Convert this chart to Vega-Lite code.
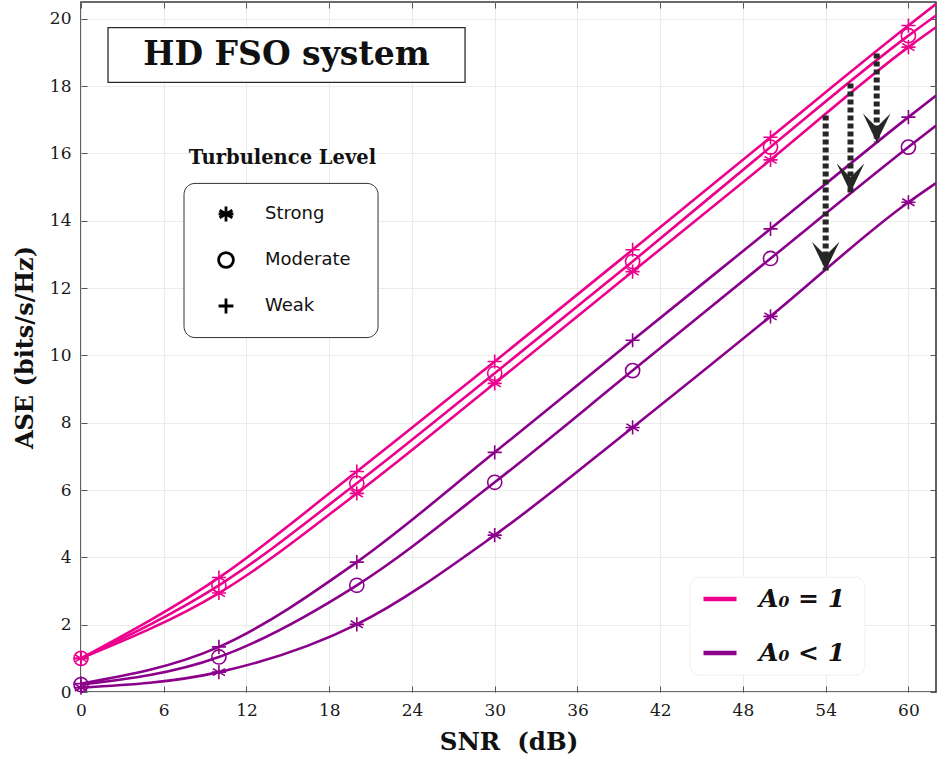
{
  "$schema": "https://vega.github.io/schema/vega-lite/v6.json",
  "width": 855,
  "height": 690,
  "autosize": "none",
  "padding": {"left": 81, "top": 2, "right": 2, "bottom": 80},
  "background": "white",
  "config": {
    "view": {"stroke": "#383838", "strokeWidth": 1.6},
    "font": "DejaVu Serif"
  },
  "datasets": {
    "curves": [
      {"snr": 0, "ase": 1.0, "a0": "A₀ = 1", "turb": "Weak", "series": "1W"},
      {"snr": 10, "ase": 3.40, "a0": "A₀ = 1", "turb": "Weak", "series": "1W"},
      {"snr": 20, "ase": 6.55, "a0": "A₀ = 1", "turb": "Weak", "series": "1W"},
      {"snr": 30, "ase": 9.82, "a0": "A₀ = 1", "turb": "Weak", "series": "1W"},
      {"snr": 40, "ase": 13.14, "a0": "A₀ = 1", "turb": "Weak", "series": "1W"},
      {"snr": 50, "ase": 16.48, "a0": "A₀ = 1", "turb": "Weak", "series": "1W"},
      {"snr": 60, "ase": 19.80, "a0": "A₀ = 1", "turb": "Weak", "series": "1W"},
      {"snr": 62, "ase": 20.44, "a0": "A₀ = 1", "turb": "Weak", "series": "1W"},
      {"snr": 0, "ase": 1.0, "a0": "A₀ = 1", "turb": "Moderate", "series": "1M"},
      {"snr": 10, "ase": 3.17, "a0": "A₀ = 1", "turb": "Moderate", "series": "1M"},
      {"snr": 20, "ase": 6.20, "a0": "A₀ = 1", "turb": "Moderate", "series": "1M"},
      {"snr": 30, "ase": 9.47, "a0": "A₀ = 1", "turb": "Moderate", "series": "1M"},
      {"snr": 40, "ase": 12.79, "a0": "A₀ = 1", "turb": "Moderate", "series": "1M"},
      {"snr": 50, "ase": 16.19, "a0": "A₀ = 1", "turb": "Moderate", "series": "1M"},
      {"snr": 60, "ase": 19.50, "a0": "A₀ = 1", "turb": "Moderate", "series": "1M"},
      {"snr": 62, "ase": 20.10, "a0": "A₀ = 1", "turb": "Moderate", "series": "1M"},
      {"snr": 0, "ase": 1.0, "a0": "A₀ = 1", "turb": "Strong", "series": "1S"},
      {"snr": 10, "ase": 2.94, "a0": "A₀ = 1", "turb": "Strong", "series": "1S"},
      {"snr": 20, "ase": 5.90, "a0": "A₀ = 1", "turb": "Strong", "series": "1S"},
      {"snr": 30, "ase": 9.17, "a0": "A₀ = 1", "turb": "Strong", "series": "1S"},
      {"snr": 40, "ase": 12.49, "a0": "A₀ = 1", "turb": "Strong", "series": "1S"},
      {"snr": 50, "ase": 15.81, "a0": "A₀ = 1", "turb": "Strong", "series": "1S"},
      {"snr": 60, "ase": 19.16, "a0": "A₀ = 1", "turb": "Strong", "series": "1S"},
      {"snr": 62, "ase": 19.75, "a0": "A₀ = 1", "turb": "Strong", "series": "1S"},
      {"snr": 0, "ase": 0.25, "a0": "A₀ < 1", "turb": "Weak", "series": "0W"},
      {"snr": 10, "ase": 1.34, "a0": "A₀ < 1", "turb": "Weak", "series": "0W"},
      {"snr": 20, "ase": 3.86, "a0": "A₀ < 1", "turb": "Weak", "series": "0W"},
      {"snr": 30, "ase": 7.12, "a0": "A₀ < 1", "turb": "Weak", "series": "0W"},
      {"snr": 40, "ase": 10.45, "a0": "A₀ < 1", "turb": "Weak", "series": "0W"},
      {"snr": 50, "ase": 13.76, "a0": "A₀ < 1", "turb": "Weak", "series": "0W"},
      {"snr": 60, "ase": 17.08, "a0": "A₀ < 1", "turb": "Weak", "series": "0W"},
      {"snr": 62, "ase": 17.72, "a0": "A₀ < 1", "turb": "Weak", "series": "0W"},
      {"snr": 0, "ase": 0.22, "a0": "A₀ < 1", "turb": "Moderate", "series": "0M"},
      {"snr": 10, "ase": 1.04, "a0": "A₀ < 1", "turb": "Moderate", "series": "0M"},
      {"snr": 20, "ase": 3.17, "a0": "A₀ < 1", "turb": "Moderate", "series": "0M"},
      {"snr": 30, "ase": 6.23, "a0": "A₀ < 1", "turb": "Moderate", "series": "0M"},
      {"snr": 40, "ase": 9.55, "a0": "A₀ < 1", "turb": "Moderate", "series": "0M"},
      {"snr": 50, "ase": 12.88, "a0": "A₀ < 1", "turb": "Moderate", "series": "0M"},
      {"snr": 60, "ase": 16.19, "a0": "A₀ < 1", "turb": "Moderate", "series": "0M"},
      {"snr": 62, "ase": 16.83, "a0": "A₀ < 1", "turb": "Moderate", "series": "0M"},
      {"snr": 0, "ase": 0.13, "a0": "A₀ < 1", "turb": "Strong", "series": "0S"},
      {"snr": 10, "ase": 0.59, "a0": "A₀ < 1", "turb": "Strong", "series": "0S"},
      {"snr": 20, "ase": 2.01, "a0": "A₀ < 1", "turb": "Strong", "series": "0S"},
      {"snr": 30, "ase": 4.66, "a0": "A₀ < 1", "turb": "Strong", "series": "0S"},
      {"snr": 40, "ase": 7.86, "a0": "A₀ < 1", "turb": "Strong", "series": "0S"},
      {"snr": 50, "ase": 11.16, "a0": "A₀ < 1", "turb": "Strong", "series": "0S"},
      {"snr": 60, "ase": 14.55, "a0": "A₀ < 1", "turb": "Strong", "series": "0S"},
      {"snr": 62, "ase": 15.12, "a0": "A₀ < 1", "turb": "Strong", "series": "0S"}
    ],
    "arrows": [
      {"snr": 57.7, "from": 18.97, "to": 16.33},
      {"snr": 55.8, "from": 18.08, "to": 14.84},
      {"snr": 54.0, "from": 17.13, "to": 12.52}
    ],
    "boxes": [
      {"kind": "title", "x1": 1.96, "x2": 27.85, "y1": 18.11, "y2": 19.74, "label": "HD FSO system", "tx": 14.9, "ty": 18.92},
      {"kind": "turb", "x1": 7.47, "x2": 21.54, "y1": 10.53, "y2": 15.11, "label": "Turbulence Level", "tx": 14.61, "ty": 15.88},
      {"kind": "a0", "x1": 44.16, "x2": 56.85, "y1": 0.5, "y2": 3.41, "label": "", "tx": 50, "ty": 2}
    ]
  },
  "layer": [
    {
      "data": {"name": "boxes"},
      "transform": [{"filter": "datum.kind === 'title'"}],
      "mark": {"type": "rect", "fill": "white", "stroke": "#2a2a2a", "strokeWidth": 1.3},
      "encoding": {
        "x": {"field": "x1", "type": "quantitative", "scale": {"domain": [0, 62], "nice": false, "zero": false},
          "axis": {"orient": "top", "values": [0, 6, 12, 18, 24, 30, 36, 42, 48, 54, 60], "labels": false, "title": null, "grid": false, "domain": false, "tickSize": -6, "tickColor": "#555", "tickWidth": 1}},
        "x2": {"field": "x2"},
        "y": {"field": "y1", "type": "quantitative", "scale": {"domain": [0, 20.5], "nice": false, "zero": false},
          "axis": {"orient": "right", "values": [0, 2, 4, 6, 8, 10, 12, 14, 16, 18, 20], "labels": false, "title": null, "grid": false, "domain": false, "tickSize": -6, "tickColor": "#555", "tickWidth": 1}},
        "y2": {"field": "y2"}
      }
    },
    {
      "data": {"name": "boxes"},
      "transform": [{"filter": "datum.kind === 'turb'"}],
      "mark": {"type": "rect", "fill": "white", "stroke": "#333333", "strokeWidth": 1, "cornerRadius": 11},
      "encoding": {
        "x": {"field": "x1", "type": "quantitative", "scale": {"domain": [0, 62], "nice": false, "zero": false}, "axis": null},
        "x2": {"field": "x2"},
        "y": {"field": "y1", "type": "quantitative", "scale": {"domain": [0, 20.5], "nice": false, "zero": false}, "axis": null},
        "y2": {"field": "y2"}
      }
    },
    {
      "data": {"name": "boxes"},
      "transform": [{"filter": "datum.kind === 'a0'"}],
      "mark": {"type": "rect", "fill": "white", "stroke": "#f0f0f0", "strokeWidth": 1, "cornerRadius": 10},
      "encoding": {
        "x": {"field": "x1", "type": "quantitative", "scale": {"domain": [0, 62], "nice": false, "zero": false}, "axis": null},
        "x2": {"field": "x2"},
        "y": {"field": "y1", "type": "quantitative", "scale": {"domain": [0, 20.5], "nice": false, "zero": false}, "axis": null},
        "y2": {"field": "y2"}
      }
    },
    {
      "data": {"name": "boxes"},
      "transform": [{"filter": "datum.kind === 'title'"}],
      "mark": {"type": "text", "font": "DejaVu Serif", "fontWeight": "bold", "fontSize": 33, "color": "#111", "baseline": "middle", "align": "center"},
      "encoding": {
        "x": {"field": "tx", "type": "quantitative", "scale": {"domain": [0, 62], "nice": false, "zero": false}, "axis": null},
        "y": {"field": "ty", "type": "quantitative", "scale": {"domain": [0, 20.5], "nice": false, "zero": false}, "axis": null},
        "text": {"field": "label"}
      }
    },
    {
      "data": {"name": "boxes"},
      "transform": [{"filter": "datum.kind === 'turb'"}],
      "mark": {"type": "text", "font": "DejaVu Serif", "fontWeight": "bold", "fontSize": 19.5, "color": "#111", "baseline": "middle", "align": "center"},
      "encoding": {
        "x": {"field": "tx", "type": "quantitative", "scale": {"domain": [0, 62], "nice": false, "zero": false}, "axis": null},
        "y": {"field": "ty", "type": "quantitative", "scale": {"domain": [0, 20.5], "nice": false, "zero": false}, "axis": null},
        "text": {"field": "label"}
      }
    },
    {
      "data": {"name": "curves"},
      "mark": {"type": "line", "interpolate": "monotone", "strokeWidth": 2.6, "clip": true},
      "encoding": {
        "x": {"field": "snr", "type": "quantitative", "scale": {"domain": [0, 62], "nice": false, "zero": false},
          "axis": {"orient": "bottom", "values": [0, 6, 12, 18, 24, 30, 36, 42, 48, 54, 60], "title": "SNR\u00a0\u00a0(dB)", "grid": true, "gridColor": "#ebebeb", "gridWidth": 1, "domain": false, "tickSize": -6, "tickColor": "#555", "labelFlush": false, "labelPadding": 16, "labelFont": "DejaVu Serif", "labelFontSize": 17, "labelColor": "#1a1a1a", "titleFont": "DejaVu Serif", "titleFontSize": 24.5, "titleFontWeight": "bold", "titleColor": "#111", "titlePadding": 12}},
        "y": {"field": "ase", "type": "quantitative", "scale": {"domain": [0, 20.5], "nice": false, "zero": false},
          "axis": {"orient": "left", "values": [0, 2, 4, 6, 8, 10, 12, 14, 16, 18, 20], "title": "ASE (bits/s/Hz)", "grid": true, "gridColor": "#ebebeb", "gridWidth": 1, "domain": false, "tickSize": -6, "tickColor": "#555", "labelFlush": false, "labelPadding": 16, "labelFont": "DejaVu Serif", "labelFontSize": 17, "labelColor": "#1a1a1a", "titleFont": "DejaVu Serif", "titleFontSize": 24, "titleFontWeight": "bold", "titleColor": "#111", "titlePadding": 12}},
        "color": {"field": "a0", "type": "nominal", "scale": {"domain": ["A₀ = 1", "A₀ < 1"], "range": ["#EC008C", "#8B008B"]},
          "legend": {"orient": "none", "legendX": 620, "legendY": 578, "title": null, "symbolType": "stroke", "symbolSize": 1089, "symbolStrokeWidth": 4.5, "padding": 0, "rowPadding": 22, "labelOffset": 20, "labelFont": "DejaVu Serif", "labelFontSize": 25, "labelFontWeight": "bold", "labelFontStyle": "italic", "labelColor": "#111", "labelLimit": 200}},
        "detail": {"field": "series"}
      }
    },
    {
      "data": {"name": "curves"},
      "transform": [{"filter": "datum.snr <= 60"}],
      "mark": {"type": "point", "filled": false, "strokeWidth": 1.6, "opacity": 1, "size": 200},
      "encoding": {
        "x": {"field": "snr", "type": "quantitative", "scale": {"domain": [0, 62], "nice": false, "zero": false}, "axis": null},
        "y": {"field": "ase", "type": "quantitative", "scale": {"domain": [0, 20.5], "nice": false, "zero": false}, "axis": null},
        "color": {"field": "a0", "type": "nominal", "scale": {"domain": ["A₀ = 1", "A₀ < 1"], "range": ["#EC008C", "#8B008B"]}, "legend": null},
        "shape": {"field": "turb", "type": "nominal",
          "scale": {"domain": ["Strong", "Moderate", "Weak"], "range": ["M0,-1L0,1M-0.866,-0.5L0.866,0.5M-0.866,0.5L0.866,-0.5M-1,0L1,0", "circle", "M-1,0L1,0M0,-1L0,1"]},
          "legend": {"orient": "none", "legendX": 136, "legendY": 203, "title": null, "padding": 0, "rowPadding": 18, "labelOffset": 30, "symbolSize": 220, "symbolStrokeColor": "black", "symbolFillColor": "transparent", "symbolStrokeWidth": 2.8, "labelFont": "DejaVu Sans", "labelFontSize": 18, "labelColor": "#111"}}
      }
    },
    {
      "data": {"name": "arrows"},
      "mark": {"type": "rule", "color": "#262626", "strokeWidth": 6, "strokeDash": [5, 3]},
      "encoding": {
        "x": {"field": "snr", "type": "quantitative", "scale": {"domain": [0, 62], "nice": false, "zero": false}, "axis": null},
        "y": {"field": "from", "type": "quantitative", "scale": {"domain": [0, 20.5], "nice": false, "zero": false}, "axis": null},
        "y2": {"field": "to"}
      }
    },
    {
      "data": {"name": "arrows"},
      "mark": {"type": "point", "filled": true, "color": "#262626", "opacity": 1, "size": 760, "shape": "M0,0L-1,-2.1L0,-1.1L1,-2.1Z"},
      "encoding": {
        "x": {"field": "snr", "type": "quantitative", "scale": {"domain": [0, 62], "nice": false, "zero": false}, "axis": null},
        "y": {"field": "to", "type": "quantitative", "scale": {"domain": [0, 20.5], "nice": false, "zero": false}, "axis": null}
      }
    }
  ],
  "resolve": {"axis": {"x": "independent", "y": "independent"}}
}
